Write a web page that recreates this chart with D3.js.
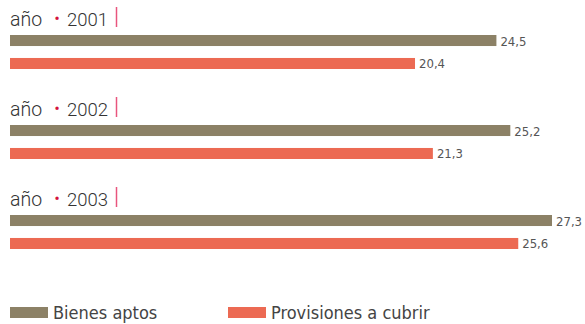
<!DOCTYPE html>
<html>
<head>
<meta charset="utf-8">
<script src="https://cdn.jsdelivr.net/npm/d3@7"></script>
<style>
  html, body { margin: 0; padding: 0; background: #fff; }
  svg { display: block; }
</style>
</head>
<body>
<svg id="chart" width="585" height="324"></svg>
<script>
// Years shown, one block each
const years = ["2001", "2002", "2003"];
// Series names and values per year
const seriesNames = ["Bienes aptos", "Provisiones a cubrir"];
const bienesAptos = [24.5, 25.2, 27.3];
const provisiones = [20.4, 21.3, 25.6];
const seriesColors = ["#8c8166", "#ec6a53"];

const svg = d3.select("#chart");
const fmt = v => d3.format(".1f")(v).replace(".", ",");

const x = d3.scaleLinear().domain([0, 27.3]).range([10, 552]);
const yBlock = d3.scaleBand().domain(years).range([0, 270]);
const yBar = d3.scaleBand().domain(seriesNames).range([35, 69]).paddingInner(0.52);

const rows = years.map((yr, i) => ({ year: yr, values: [bienesAptos[i], provisiones[i]] }));

const block = svg.selectAll("g.block").data(rows).join("g")
  .attr("class", "block")
  .attr("transform", d => `translate(0,${yBlock(d.year)})`);

// Block heading: "año • YYYY |"
const head = block.append("text")
  .attr("x", 10).attr("y", 26)
  .attr("font-family", "Roboto, 'Open Sans', sans-serif")
  .attr("font-weight", 300)
  .attr("font-size", 19.5)
  .attr("fill", "#333");
head.append("tspan").text("año");
head.append("tspan").attr("x", 57).attr("text-anchor", "middle").attr("fill", "#d4123d")
  .attr("font-size", 14).attr("font-weight", 700).attr("dy", -2).text("•");
head.append("tspan").attr("x", 67).attr("text-anchor", "start").attr("dy", 2)
  .attr("font-size", 18.5).text(d => d.year);

block.append("line")
  .attr("x1", 116.5).attr("x2", 116.5)
  .attr("y1", 7).attr("y2", 27)
  .attr("stroke", "#e8557e").attr("stroke-width", 1.5);

// Bars and value labels
block.selectAll("rect.bar").data(d => d.values.map((v, j) => ({ v, s: seriesNames[j], c: seriesColors[j] })))
  .join("rect")
  .attr("class", "bar")
  .attr("x", x(0))
  .attr("y", d => yBar(d.s))
  .attr("width", d => x(d.v) - x(0))
  .attr("height", yBar.bandwidth())
  .attr("fill", d => d.c);

block.selectAll("text.val").data(d => d.values.map((v, j) => ({ v, s: seriesNames[j] })))
  .join("text")
  .attr("class", "val")
  .attr("x", d => x(d.v) + 4)
  .attr("y", d => yBar(d.s) + yBar.bandwidth() / 2 + 5)
  .attr("font-family", "'DejaVu Sans Condensed', 'Liberation Sans Narrow', sans-serif")
  .attr("font-size", 13)
  .attr("fill", "#555")
  .text(d => fmt(d.v));

// Legend
const legX = [10, 228];
const leg = svg.selectAll("g.leg").data(seriesNames).join("g")
  .attr("class", "leg")
  .attr("transform", (d, i) => `translate(${legX[i]},307)`);
leg.append("rect").attr("width", 38).attr("height", 11).attr("fill", (d, i) => seriesColors[i]);
leg.append("text")
  .attr("x", 43).attr("y", 12)
  .attr("font-family", "'DejaVu Sans Condensed', 'Liberation Sans Narrow', sans-serif")
  .attr("font-size", 18)
  .attr("fill", "#444")
  .text(d => d);
</script>
</body>
</html>
